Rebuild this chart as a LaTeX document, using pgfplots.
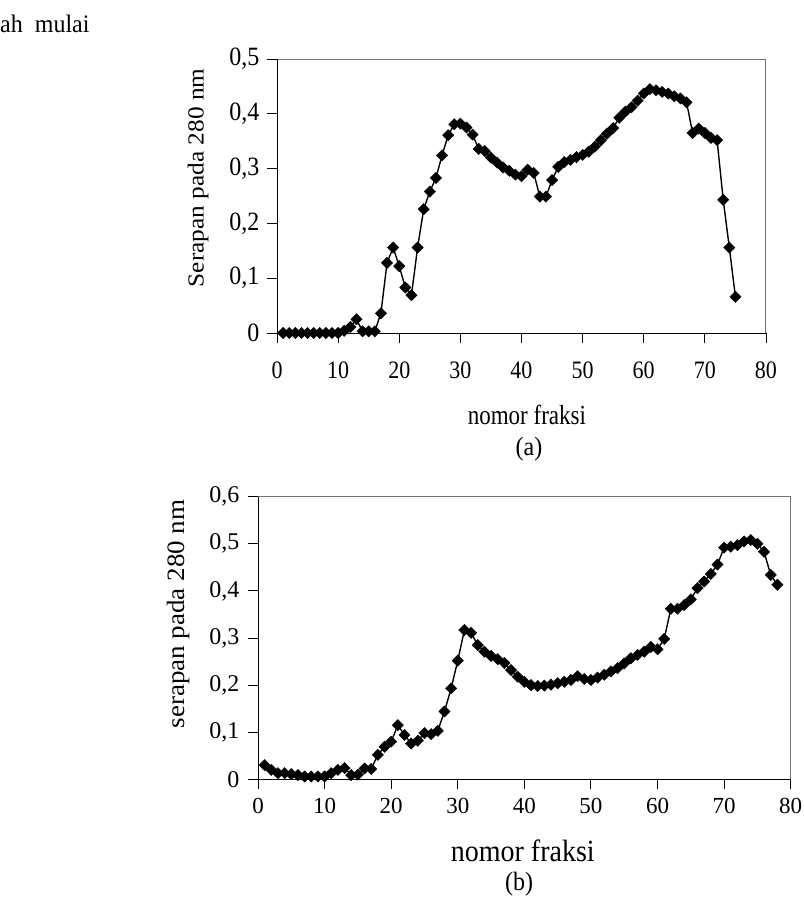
\documentclass[border=0pt]{standalone}
\usepackage{fontspec}
\setmainfont{Liberation Serif}
\usepackage{graphicx}
\usepackage{pgfplots}
\pgfplotsset{compat=1.18}
\pgfplotsset{
  fraksi/.style={
    scale only axis,
    xmin=0, xmax=80, ymin=0,
    xtick={0,10,20,30,40,50,60,70,80},
    tick align=outside, xtick pos=bottom, ytick pos=left,
    major tick length=10pt,
    tick style={black, line width=0.9pt},
    axis line style={black!55, line width=1pt},
    /pgf/number format/.cd, use comma, fixed, precision=1, assume math mode=true,
    /pgfplots/.cd,
  },
  ser/.style={black, line width=1.4pt, mark=square*, mark size=4pt,
    mark options={rotate=45, fill=black, draw=black, line width=0.4pt}},
}
\begin{document}
\begin{tikzpicture}[x=1pt,y=1pt]
\useasboundingbox (0,0) rectangle (803,-902);
\node[anchor=west, inner sep=0pt, font=\fontsize{24}{26}\selectfont] at (0,-24) {\scalebox{1}[1.05]{ah\ \ mulai}};

\begin{axis}[fraksi, at={(277pt,-333pt)}, anchor=south west,
  width=489pt, height=274pt, ymax=0.5,
  ytick={0,0.1,0.2,0.3,0.4,0.5},
  xticklabel style={font=\fontsize{22}{24}\selectfont, anchor=north, yshift=-15pt},
  yticklabel style={font=\fontsize{24}{26}\selectfont, anchor=east, xshift=-4pt},
  xticklabel={\scalebox{1}[1.14]{\pgfmathprintnumber{\tick}}},
  yticklabel={\scalebox{1}[1.1]{\pgfmathprintnumber{\tick}}},
  ylabel={\scalebox{1.1}[1]{Serapan pada 280 nm}},
  ylabel style={font=\fontsize{23}{25}\selectfont, at={(axis description cs:-0.1616,0.566)}, anchor=center},
  xlabel={\scalebox{1}[1.2]{nomor fraksi}},
  xlabel style={font=\fontsize{23}{25}\selectfont, at={(axis description cs:0.511,-0.299)}, anchor=center},
]
\addplot[ser] coordinates {
(1,0) (2,0) (3,0) (4,0) (5,0) (6,0) (7,0) (8,0) (9,0) (10,0) (11,0.004) (12,0.011)
(13,0.025) (14,0.003) (15,0.003) (16,0.003) (17,0.036) (18,0.128) (19,0.156) (20,0.122)
(21,0.083) (22,0.069) (23,0.156) (24,0.226) (25,0.258) (26,0.283) (27,0.324) (28,0.361)
(29,0.381) (30,0.382) (31,0.375) (32,0.362) (33,0.336) (34,0.332) (35,0.32) (36,0.311)
(37,0.302) (38,0.296) (39,0.289) (40,0.286) (41,0.298) (42,0.292) (43,0.249) (44,0.249)
(45,0.279) (46,0.303) (47,0.312) (48,0.316) (49,0.321) (50,0.325) (51,0.331) (52,0.34)
(53,0.352) (54,0.364) (55,0.374) (56,0.393) (57,0.404) (58,0.412) (59,0.424) (60,0.437)
(61,0.445) (62,0.443) (63,0.44) (64,0.437) (65,0.432) (66,0.428) (67,0.421) (68,0.365)
(69,0.373) (70,0.365) (71,0.356) (72,0.352) (73,0.243) (74,0.156) (75,0.066)
};
\draw[black, line width=1pt] (rel axis cs:0,1) -- (rel axis cs:0,0) -- (rel axis cs:1,0);
\end{axis}
\node[font=\fontsize{24}{26}\selectfont] at (529,-449) {\scalebox{1}[1.1]{(a)}};

\begin{axis}[fraksi, at={(258pt,-779.3pt)}, anchor=south west,
  width=532.7pt, height=282.6pt, ymax=0.6,
  ytick={0,0.1,0.2,0.3,0.4,0.5,0.6},
  xticklabel style={font=\fontsize{23}{25}\selectfont, anchor=north, yshift=-5pt},
  yticklabel style={font=\fontsize{24}{26}\selectfont, anchor=east, xshift=-5pt},
  ylabel={\scalebox{1.08}[1]{serapan pada 280 nm}},
  ylabel style={font=\fontsize{25}{27}\selectfont, at={(axis description cs:-0.150,0.585)}, anchor=center},
  xlabel={\scalebox{1}[1.1]{nomor fraksi}},
  xlabel style={font=\fontsize{28}{30}\selectfont, at={(axis description cs:0.497,-0.254)}, anchor=center},
]
\addplot[ser] coordinates {
(1,0.030) (2,0.020) (3,0.013) (4,0.013) (5,0.011) (6,0.009) (7,0.006) (8,0.006) (9,0.006)
(10,0.006) (11,0.013) (12,0.020) (13,0.024) (14,0.009) (15,0.010) (16,0.023) (17,0.022)
(18,0.052) (19,0.069) (20,0.080) (21,0.115) (22,0.094) (23,0.076) (24,0.082) (25,0.098)
(26,0.096) (27,0.103) (28,0.144) (29,0.193) (30,0.252) (31,0.317) (32,0.311) (33,0.285)
(34,0.271) (35,0.262) (36,0.255) (37,0.247) (38,0.232) (39,0.218) (40,0.207) (41,0.200)
(42,0.198) (43,0.199) (44,0.201) (45,0.204) (46,0.207) (47,0.211) (48,0.219) (49,0.213)
(50,0.211) (51,0.216) (52,0.222) (53,0.229) (54,0.236) (55,0.246) (56,0.257) (57,0.264)
(58,0.271) (59,0.281) (60,0.276) (61,0.298) (62,0.362) (63,0.362) (64,0.370) (65,0.382)
(66,0.406) (67,0.420) (68,0.436) (69,0.456) (70,0.492) (71,0.494) (72,0.497) (73,0.505)
(74,0.508) (75,0.500) (76,0.483) (77,0.434) (78,0.413)
};
\draw[black, line width=1pt] (rel axis cs:0,1) -- (rel axis cs:0,0) -- (rel axis cs:1,0);
\end{axis}
\node[font=\fontsize{24}{26}\selectfont] at (519,-884) {\scalebox{1}[1.1]{(b)}};
\end{tikzpicture}
\end{document}
